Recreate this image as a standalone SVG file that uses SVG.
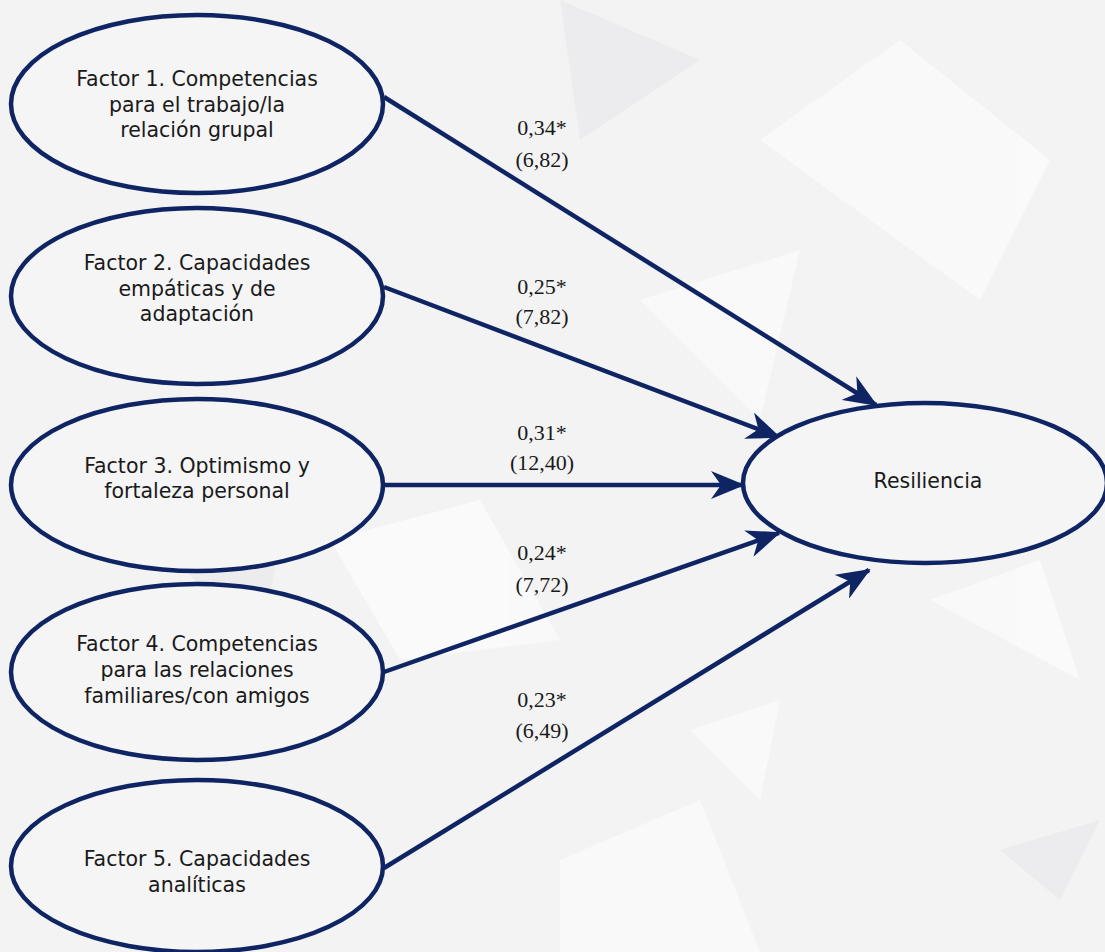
<svg xmlns="http://www.w3.org/2000/svg" width="1105" height="952" viewBox="0 0 1105 952">
<style>
.node ellipse{fill:#f5f5f6;stroke:#0f2462;stroke-width:4.5}
.node text{font-family:"DejaVu Sans",Verdana,sans-serif;font-size:20.5px;fill:#1a1a1a;text-anchor:middle}
.conn line{stroke:#0f2462;stroke-width:4.5}
.lbl{font-family:"Liberation Serif","Times New Roman",serif;font-size:22px;fill:#1a1a1a;text-anchor:middle}
</style>
<defs>
<marker id="arr" markerUnits="userSpaceOnUse" markerWidth="34" markerHeight="28" viewBox="0 0 34 28" refX="32" refY="14" orient="auto">
<path d="M0,0 L34,14 L0,28 L10,14 z" fill="#0f2462"/>
</marker>
</defs>
<rect x="0" y="0" width="1105" height="952" fill="#f3f3f4"/>
<g id="bg" fill="#ffffff" opacity="0.55">
<polygon points="760,140 900,40 1050,160 980,300"/>
<polygon points="640,300 800,250 760,420"/>
<polygon points="330,540 480,500 560,640 400,660"/>
<polygon points="560,860 700,800 760,952 560,952"/>
<polygon points="930,600 1040,560 1080,680"/>
<polygon points="690,730 780,700 760,800"/>
</g>
<g id="bg2" fill="#e6e6e8" opacity="0.5">
<polygon points="560,0 700,60 580,140"/>
<polygon points="120,500 300,430 260,650"/>
<polygon points="1000,850 1100,820 1060,900"/>
</g>
<g class="conn" id="connectors">
<line x1="384" y1="97" x2="876" y2="405" marker-end="url(#arr)"/>
<line x1="384" y1="287" x2="779" y2="437" marker-end="url(#arr)"/>
<line x1="384" y1="485" x2="743" y2="485" marker-end="url(#arr)"/>
<line x1="384" y1="672" x2="779" y2="533" marker-end="url(#arr)"/>
<line x1="384" y1="868" x2="869" y2="570" marker-end="url(#arr)"/>
<text class="lbl" x="542" y="135">0,34*</text>
<text class="lbl" x="542" y="167">(6,82)</text>
<text class="lbl" x="542" y="294">0,25*</text>
<text class="lbl" x="542" y="324">(7,82)</text>
<text class="lbl" x="542" y="440">0,31*</text>
<text class="lbl" x="542" y="470">(12,40)</text>
<text class="lbl" x="542" y="560">0,24*</text>
<text class="lbl" x="542" y="592">(7,72)</text>
<text class="lbl" x="542" y="707">0,23*</text>
<text class="lbl" x="542" y="738">(6,49)</text>
</g>
<g class="node" id="f1">
<ellipse cx="197" cy="104" rx="186" ry="89"/>
<text x="197" y="86">Factor 1. Competencias</text>
<text x="197" y="112">para el trabajo/la</text>
<text x="197" y="137">relación grupal</text>
</g>
<g class="node" id="f2">
<ellipse cx="197" cy="296" rx="186" ry="88"/>
<text x="197" y="270">Factor 2. Capacidades</text>
<text x="197" y="296">empáticas y de</text>
<text x="197" y="321">adaptación</text>
</g>
<g class="node" id="f3">
<ellipse cx="197" cy="485" rx="186" ry="86"/>
<text x="197" y="473">Factor 3. Optimismo y</text>
<text x="197" y="498">fortaleza personal</text>
</g>
<g class="node" id="f4">
<ellipse cx="197" cy="672" rx="186" ry="88"/>
<text x="197" y="651">Factor 4. Competencias</text>
<text x="197" y="677">para las relaciones</text>
<text x="197" y="703">familiares/con amigos</text>
</g>
<g class="node" id="f5">
<ellipse cx="197" cy="866" rx="186" ry="86"/>
<text x="197" y="866">Factor 5. Capacidades</text>
<text x="197" y="892">analíticas</text>
</g>
<g class="node" id="res">
<ellipse cx="925" cy="483" rx="182" ry="80"/>
<text x="928" y="488">Resiliencia</text>
</g>
</svg>
